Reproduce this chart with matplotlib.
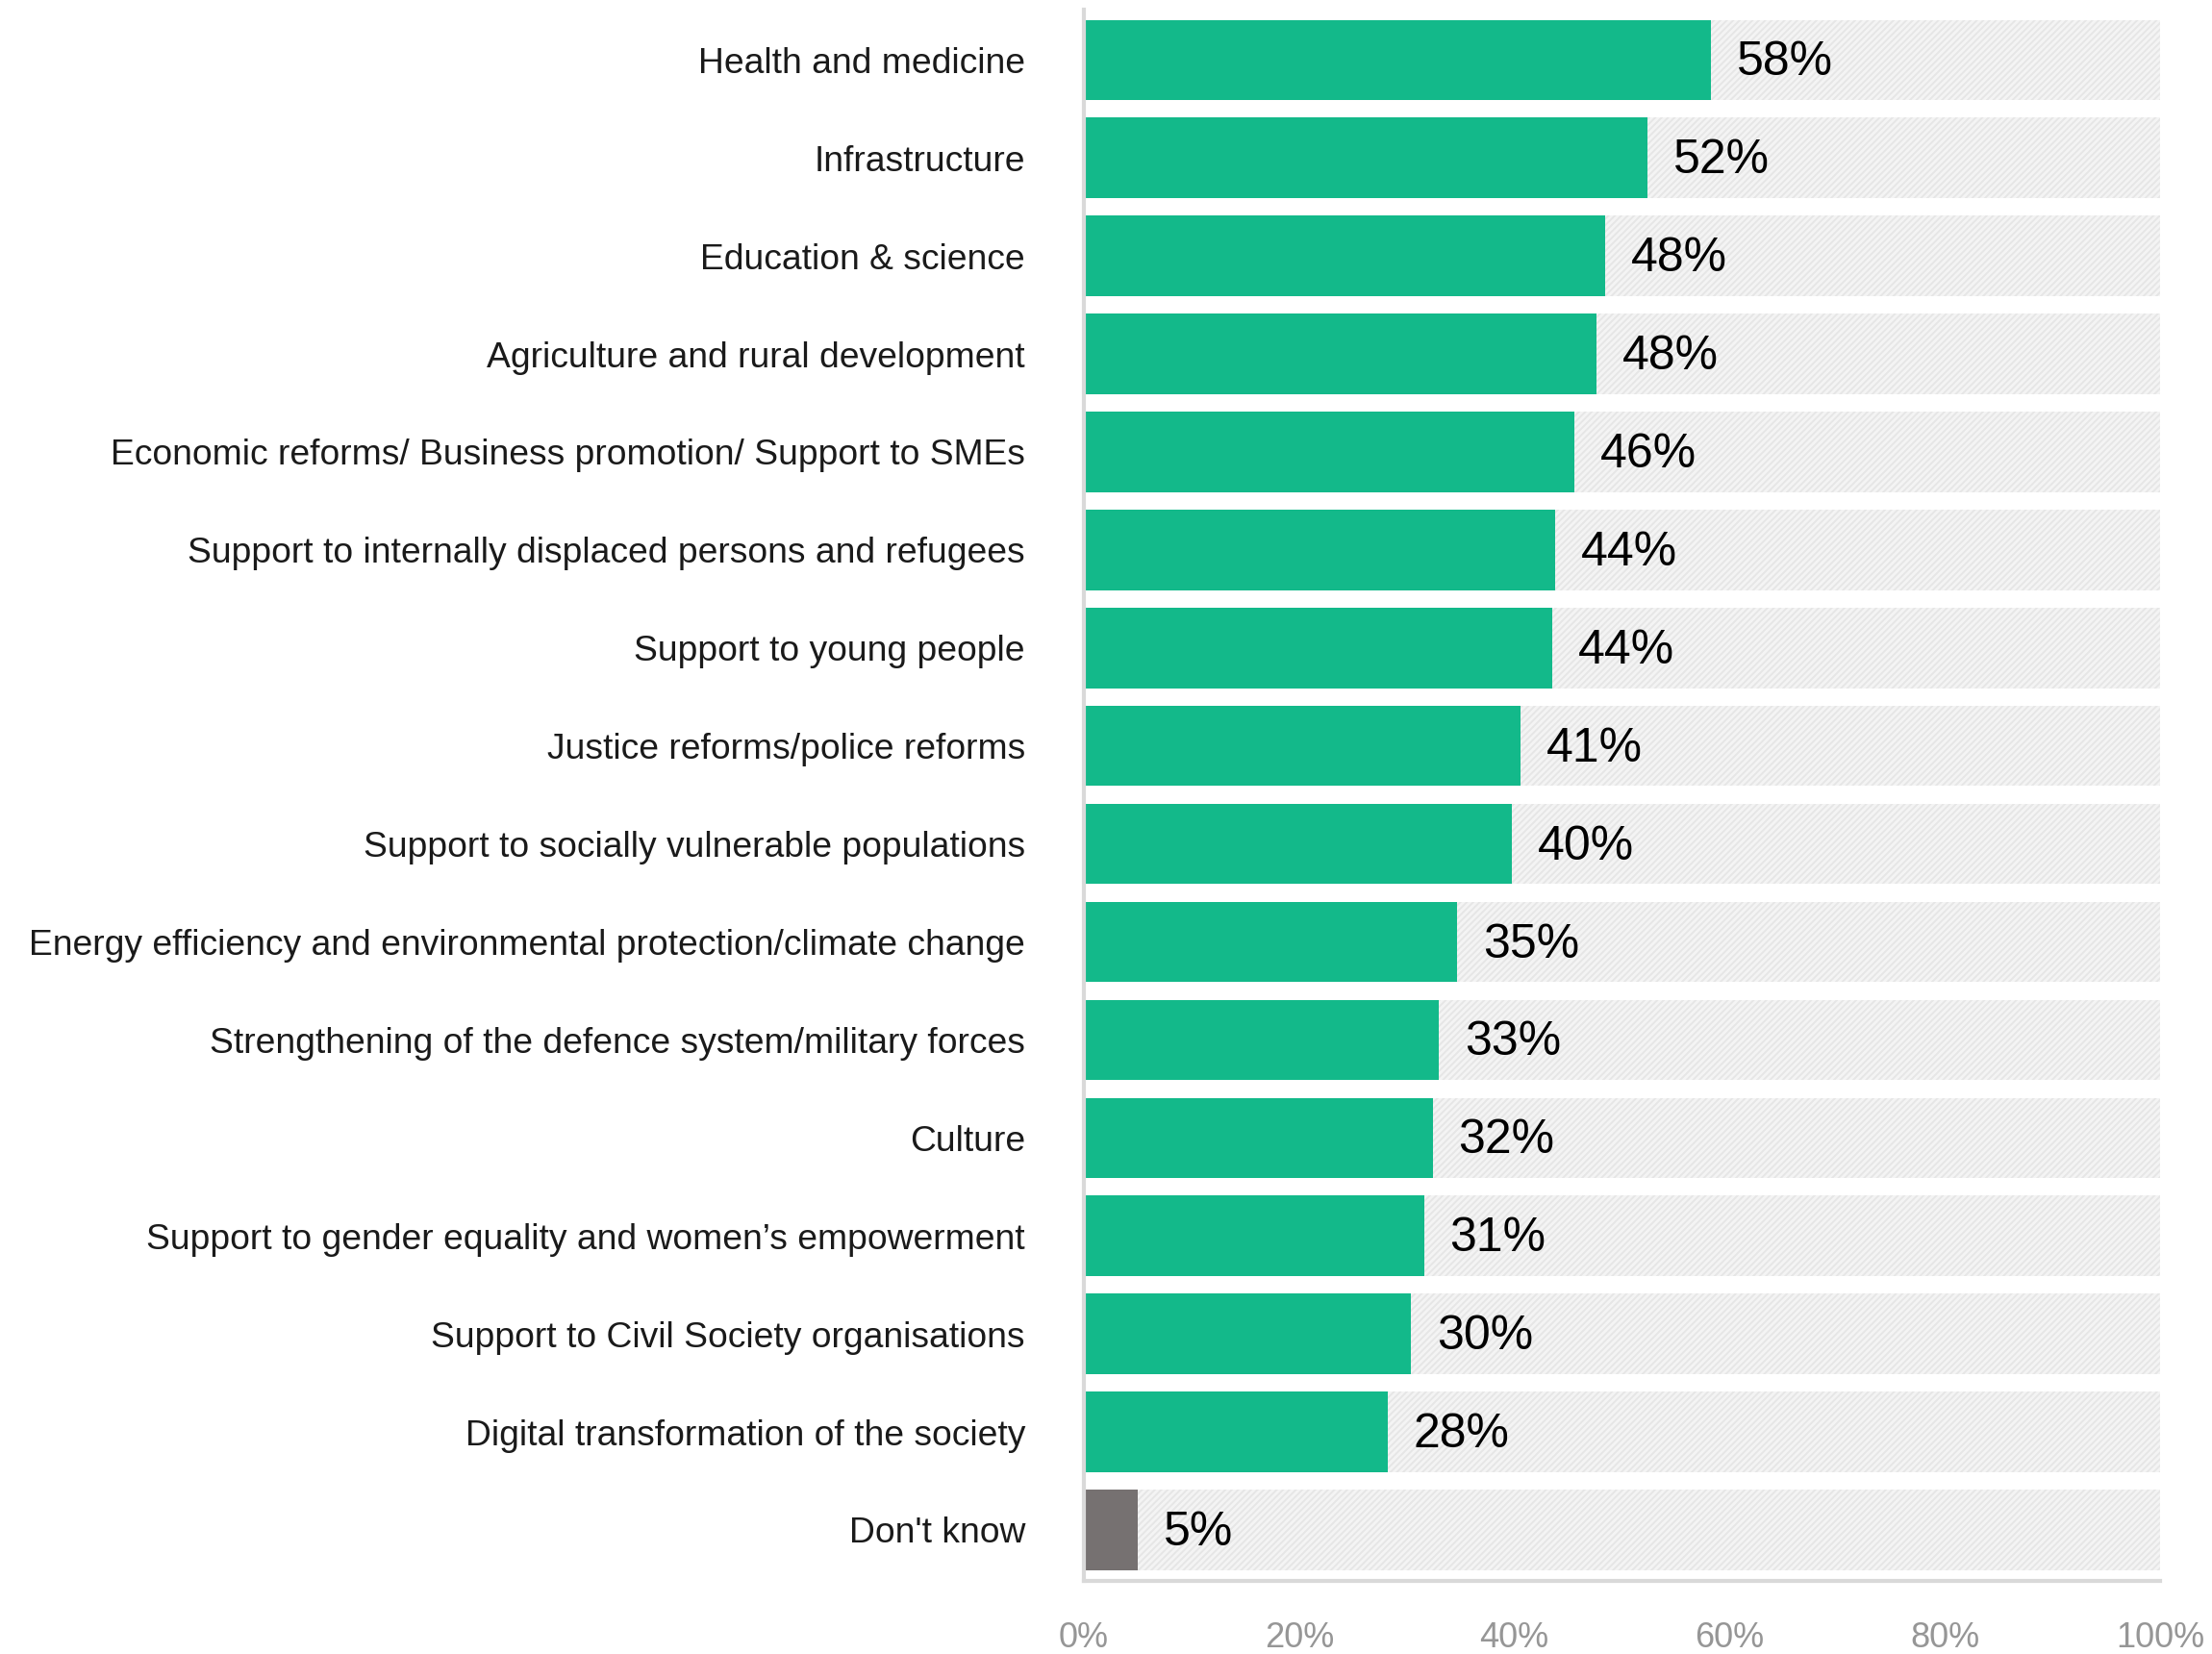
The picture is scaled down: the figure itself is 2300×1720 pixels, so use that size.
import numpy as np
import matplotlib.pyplot as plt

# categories, top to bottom
categories = [
    "Health and medicine",
    "Infrastructure",
    "Education & science",
    "Agriculture and rural development",
    "Economic reforms/ Business promotion/ Support to SMEs",
    "Support to internally displaced persons and refugees",
    "Support to young people",
    "Justice reforms/police reforms",
    "Support to socially vulnerable populations",
    "Energy efficiency and environmental protection/climate change",
    "Strengthening of the defence system/military forces",
    "Culture",
    "Support to gender equality and women\u2019s empowerment",
    "Support to Civil Society organisations",
    "Digital transformation of the society",
    "Don't know",
]
values = [58.3, 52.4, 48.4, 47.6, 45.6, 43.8, 43.5, 40.6, 39.8, 34.7, 33.0, 32.4, 31.6, 30.4, 28.2, 5.0]
labels = ["58%", "52%", "48%", "48%", "46%", "44%", "44%", "41%", "40%",
          "35%", "33%", "32%", "31%", "30%", "28%", "5%"]
xticks = [0, 20, 40, 60, 80, 100]

green = "#13B98A"
grey = "#767171"

plt.rcParams["font.family"] = ["Liberation Sans", "DejaVu Sans"]
plt.rcParams["hatch.linewidth"] = 2.0

fig = plt.figure(figsize=(23, 17.2), dpi=100)
ax = fig.add_axes([0.490, 0.0442, 0.4865, 0.9498])

y = np.arange(len(categories))
h = 0.82

# light hatched 100% background
ax.barh(y, [100] * len(y), height=h, color="#E6E6E6", edgecolor="#F4F4F4",
        hatch="/////", linewidth=0, zorder=1)
colors = [green] * (len(y) - 1) + [grey]
ax.barh(y, values, height=h, color=colors, zorder=2)

for yi, v, lab in zip(y, values, labels):
    ax.text(v + 2.4, yi + 0.03, lab, va="center", ha="left", fontsize=36,
            color="black", zorder=3)

ax.set_xlim(0, 100)
ax.set_ylim(15.52, -0.51)
ax.set_yticks(y)
ax.set_yticklabels(categories, fontsize=26.8, color="#1a1a1a")
ax.set_xticks(xticks)
ax.set_xticklabels([f"{t}%" for t in xticks], fontsize=26, color="#969696")
ax.tick_params(axis="y", length=0, pad=44)
ax.tick_params(axis="x", length=0, pad=30)

for s in ["top", "right"]:
    ax.spines[s].set_visible(False)
ax.spines["left"].set_color("#D9D9D9")
ax.spines["left"].set_linewidth(3)
ax.spines["bottom"].set_color("#D9D9D9")
ax.spines["bottom"].set_linewidth(3)

fig.savefig("out.png", dpi=100)
